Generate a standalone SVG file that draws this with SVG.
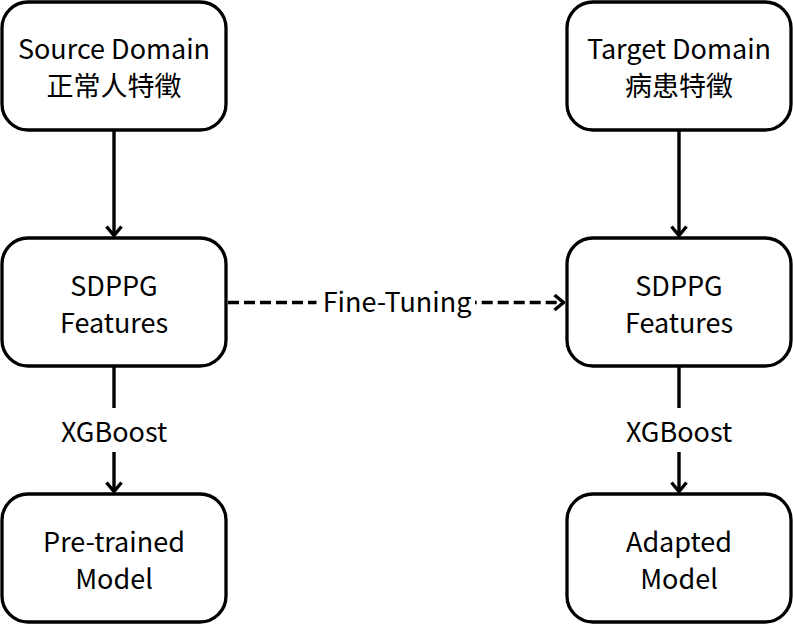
<svg xmlns="http://www.w3.org/2000/svg" width="793" height="626" viewBox="0 0 793 626">
<defs>
<style>
.node rect{fill:#fff;stroke:#000;stroke-width:3.3}
text{font-family:"Noto Sans CJK SC","Noto Sans",sans-serif;font-size:27px;fill:#000;text-anchor:middle}
.edge{stroke:#000;stroke-width:3.4;fill:none}
.dash{stroke-dasharray:11 5}
</style>
<marker id="arr" viewBox="0 0 12 18" refX="11" refY="9" markerWidth="12" markerHeight="18" markerUnits="userSpaceOnUse" orient="auto">
<path d="M1.5,1.5 L10.5,9 L1.5,16.5" fill="none" stroke="#000" stroke-width="3.4"/>
</marker>
</defs>
<rect width="793" height="626" fill="#fff"/>
<g id="connectors">
<line class="edge" x1="114" y1="131" x2="114" y2="236" marker-end="url(#arr)"/>
<line class="edge" x1="679" y1="131" x2="679" y2="236" marker-end="url(#arr)"/>
<line class="edge" x1="114" y1="367" x2="114" y2="408"/>
<line class="edge" x1="114" y1="452" x2="114" y2="492" marker-end="url(#arr)"/>
<text x="114" y="442">XGBoost</text>
<line class="edge" x1="679" y1="367" x2="679" y2="408"/>
<line class="edge" x1="679" y1="452" x2="679" y2="492" marker-end="url(#arr)"/>
<text x="679" y="442">XGBoost</text>
<line class="edge dash" x1="228" y1="302.5" x2="316.5" y2="302.5"/>
<line class="edge dash" x1="475" y1="302.5" x2="564" y2="302.5" stroke-dashoffset="9.3" marker-end="url(#arr)"/>
<text x="397" y="312">Fine-Tuning</text>
</g>
<g id="source" class="node">
<rect x="2" y="2" width="224" height="128" rx="26"/>
<text x="114" y="59">Source Domain</text>
<text x="114" y="96">正常人特徵</text>
</g>
<g id="target" class="node">
<rect x="567" y="2" width="224" height="128" rx="26"/>
<text x="679" y="59">Target Domain</text>
<text x="679" y="96">病患特徵</text>
</g>
<g id="sdppg-src" class="node">
<rect x="2" y="238" width="224" height="128" rx="26"/>
<text x="114" y="296">SDPPG</text>
<text x="114" y="333">Features</text>
</g>
<g id="sdppg-tgt" class="node">
<rect x="567" y="238" width="224" height="128" rx="26"/>
<text x="679" y="296">SDPPG</text>
<text x="679" y="333">Features</text>
</g>
<g id="pretrained" class="node">
<rect x="2" y="494" width="224" height="128" rx="26"/>
<text x="114" y="552">Pre-trained</text>
<text x="114" y="589">Model</text>
</g>
<g id="adapted" class="node">
<rect x="567" y="494" width="224" height="128" rx="26"/>
<text x="679" y="552">Adapted</text>
<text x="679" y="589">Model</text>
</g>
</svg>
